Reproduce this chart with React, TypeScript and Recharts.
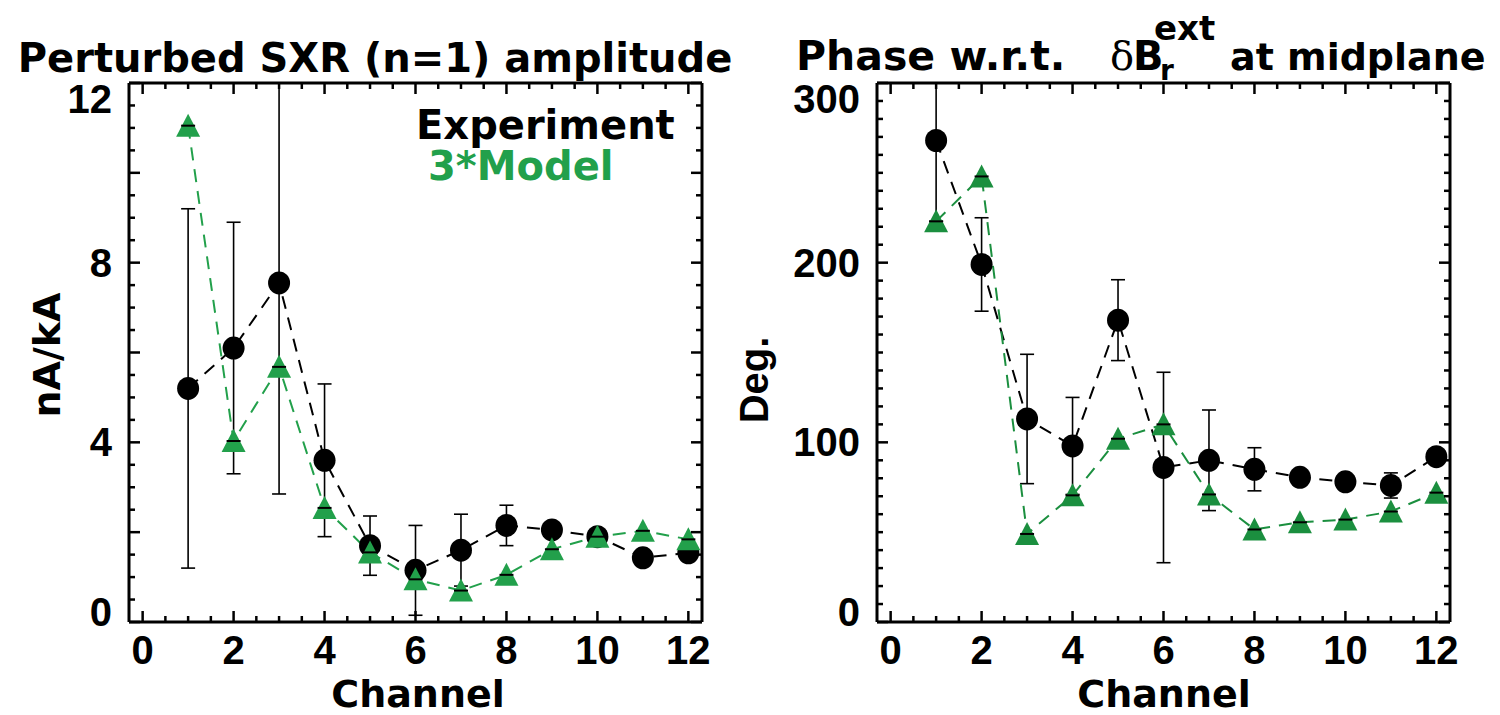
import React from "react";
import { LineChart, Line, XAxis, YAxis, ErrorBar } from "recharts";

// channel numbers (x)
const channels = [1, 2, 3, 4, 5, 6, 7, 8, 9, 10, 11, 12];

// left panel: perturbed SXR amplitude, nA/kA
const ampExp = [5.2, 6.1, 7.55, 3.6, 1.7, 1.15, 1.6, 2.15, 2.05, 1.9, 1.43, 1.54];
const ampErr: [number, number][] = [
  [4.0, 4.0], [2.8, 2.8], [4.7, 4.45], [1.7, 1.7], [0.66, 0.66], [1.0, 1.0],
  [0.8, 0.8], [0.45, 0.45], [0, 0], [0, 0], [0, 0], [0, 0],
];
const ampModel = [11.05, 4.03, 5.68, 2.54, 1.55, 0.95, 0.7, 1.05, 1.62, 1.9, 2.03, 1.84];

// right panel: phase w.r.t. dBr ext, degrees
const phaseExp = [268, 199, 113, 98, 168, 86, 90, 85, 80.5, 78, 76, 92];
const phaseErr: [number, number][] = [
  [45, 32], [26, 26], [36, 36], [27, 27], [22.5, 22.5], [53, 53],
  [28, 28], [12, 12], [0, 0], [0, 0], [7, 7], [0, 0],
];
const phaseModel = [223, 248, 49, 70.5, 102, 110, 71, 51.5, 55.5, 57, 61.5, 72];

// axis ticks
const xTickLabels = [0, 2, 4, 6, 8, 10, 12];
const ampTickLabels = [0, 4, 8, 12];
const phaseTickLabels = [0, 100, 200, 300];

const GREEN_L = "#22a04b";
const GREEN_R = "#1b8f3f";
const NUM_FONT = "'Liberation Sans', Arial, sans-serif";
const TXT_FONT = "'DejaVu Sans', sans-serif";

function stepTicks(max: number, step: number) {
  const out: number[] = [];
  for (let v = 0; v <= max + 1e-9; v += step) out.push(Math.round(v * 1000) / 1000);
  return out;
}

const isMul = (v: number, m: number) => Math.abs(v / m - Math.round(v / m)) < 1e-6;

type Side = "bottom" | "top" | "left" | "right";

function makeTick(side: Side, majorStep: number, labels: number[], maxVal: number) {
  return (props: any) => {
    const { x, y, payload } = props;
    const v = payload.value as number;
    const len = isMul(v, majorStep) ? 11 : 6;
    let line = null;
    if (side === "bottom") line = <line x1={x} x2={x} y1={y} y2={y - len} />;
    if (side === "top") line = <line x1={x} x2={x} y1={y} y2={y + len} />;
    if (side === "left") line = <line x1={x} x2={x + len} y1={y} y2={y} />;
    if (side === "right") line = <line x1={x} x2={x - len} y1={y} y2={y} />;
    let label = null;
    if (labels.includes(v)) {
      if (side === "bottom") {
        label = (
          <text x={x} y={y + 42} textAnchor="middle" fontSize={40} fontWeight="bold" fontFamily={NUM_FONT} fill="#000" stroke="none">
            {v}
          </text>
        );
      }
      if (side === "left") {
        let dy = 14;
        if (v === maxVal) dy = 30;
        if (v === 0) dy = 4;
        label = (
          <text x={x - 17} y={y + dy} textAnchor="end" fontSize={40} fontWeight="bold" fontFamily={NUM_FONT} fill="#000" stroke="none">
            {v}
          </text>
        );
      }
    }
    return (
      <g stroke="#000" strokeWidth={2.5}>
        {line}
        {label}
      </g>
    );
  };
}

const CircleDot = (props: any) => {
  const { cx, cy } = props;
  if (cx == null || cy == null) return null;
  return <ellipse cx={cx} cy={cy} rx={11} ry={11.5} fill="#000" />;
};

function makeTriangle(color: string) {
  return (props: any) => {
    const { cx, cy } = props;
    if (cx == null || cy == null) return null;
    return (
      <g>
        <polygon points={`${cx},${cy - 12} ${cx - 12},${cy + 11} ${cx + 12},${cy + 11}`} fill={color} />
        <line x1={cx - 7} x2={cx + 7} y1={cy} y2={cy} stroke="#000" strokeWidth={2} />
      </g>
    );
  };
}

type PanelProps = {
  left: number;
  exp: number[];
  err: [number, number][];
  model: number[];
  yMax: number;
  yMajor: number;
  yMinor: number;
  yLabels: number[];
  green: string;
  leftW: number;
  rightW: number;
};

function Panel({ left, exp, err, model, yMax, yMajor, yMinor, yLabels, green, leftW, rightW }: PanelProps) {
  const data = channels.map((ch, i) => ({ ch, exp: exp[i], err: err[i], model: model[i] }));
  const xTicks = stepTicks(12, 0.5);
  const yTicks = stepTicks(yMax, yMinor);
  const axisLine = { stroke: "#000", strokeWidth: 3 };
  return (
    <div style={{ position: "absolute", left, top: 0 }}>
      <LineChart width={750} height={715} data={data} margin={{ top: 0, right: 0, bottom: 0, left: 0 }}>
        <XAxis
          xAxisId="b"
          dataKey="ch"
          type="number"
          domain={[-0.3, 12.3]}
          allowDataOverflow
          ticks={xTicks}
          interval={0}
          height={93}
          tickSize={0}
          tickMargin={0}
          tickLine={false}
          axisLine={axisLine}
          tick={makeTick("bottom", 2, xTickLabels, 12)}
        />
        <XAxis
          xAxisId="t"
          orientation="top"
          dataKey="ch"
          type="number"
          domain={[-0.3, 12.3]}
          allowDataOverflow
          ticks={xTicks}
          interval={0}
          height={83}
          tickSize={0}
          tickMargin={0}
          tickLine={false}
          axisLine={axisLine}
          tick={makeTick("top", 2, [], 12)}
        />
        <YAxis
          yAxisId="l"
          type="number"
          domain={[0, yMax]}
          allowDataOverflow
          ticks={yTicks}
          interval={0}
          width={leftW}
          tickSize={0}
          tickMargin={0}
          tickLine={false}
          axisLine={axisLine}
          tick={makeTick("left", yMajor, yLabels, yMax)}
        />
        <YAxis
          yAxisId="r"
          orientation="right"
          type="number"
          domain={[0, yMax]}
          allowDataOverflow
          ticks={yTicks}
          interval={0}
          width={rightW}
          tickSize={0}
          tickMargin={0}
          tickLine={false}
          axisLine={axisLine}
          tick={makeTick("right", yMajor, [], yMax)}
        />
        <Line
          xAxisId="b"
          yAxisId="l"
          dataKey="exp"
          stroke="#000"
          strokeWidth={2}
          strokeDasharray="13 9"
          dot={<CircleDot />}
          activeDot={false}
          isAnimationActive={false}
        >
          <ErrorBar dataKey="err" direction="y" width={7} stroke="#000" strokeWidth={1.6} />
        </Line>
        <Line
          xAxisId="b"
          yAxisId="l"
          dataKey="model"
          stroke={green}
          strokeWidth={2}
          strokeDasharray="13 9"
          dot={makeTriangle(green)}
          activeDot={false}
          isAnimationActive={false}
        />
      </LineChart>
    </div>
  );
}

export default function App() {
  const tstyle = { fontFamily: TXT_FONT, fontWeight: "bold" as const, fontSize: 40 };
  const nstyle = { fontFamily: NUM_FONT, fontWeight: "bold" as const, fontSize: 40 };
  return (
    <div style={{ position: "absolute", left: 0, top: 0, width: 1500, height: 715, background: "#fff", overflow: "hidden" }}>
      <Panel
        left={0}
        exp={ampExp}
        err={ampErr}
        model={ampModel}
        yMax={12}
        yMajor={2}
        yMinor={0.5}
        yLabels={ampTickLabels}
        green={GREEN_L}
        leftW={129}
        rightW={48}
      />
      <Panel
        left={750}
        exp={phaseExp}
        err={phaseErr}
        model={phaseModel}
        yMax={300}
        yMajor={100}
        yMinor={10}
        yLabels={phaseTickLabels}
        green={GREEN_R}
        leftW={127}
        rightW={50}
      />
      <svg width={1500} height={715} style={{ position: "absolute", left: 0, top: 0, pointerEvents: "none" }}>
        <text x={375} y={72} textAnchor="middle" {...tstyle}>Perturbed SXR (n=1) amplitude</text>
        <text x={416} y={139} {...tstyle}>Experiment</text>
        <text x={428} y={180} {...tstyle} fill={GREEN_L}>3*Model</text>
        <text x={418} y={707} textAnchor="middle" {...tstyle} fontSize={38}>Channel</text>
        <text transform="translate(60,355) rotate(-90)" textAnchor="middle" {...tstyle} fontSize={38}>nA/kA</text>

        <text x={796} y={70} {...tstyle} fontSize={41}>Phase w.r.t.</text>
        <text x={1110} y={70} fontFamily="'DejaVu Serif', serif" fontSize={40}>δ</text>
        <text x={1133} y={70} {...tstyle}>B</text>
        <text x={1160} y={80} {...tstyle} fontSize={28}>r</text>
        <text x={1154} y={40} {...tstyle} fontSize={34}>ext</text>
        <text x={1230} y={70} {...tstyle} fontSize={38}>at midplane</text>
        <text x={1164} y={707} textAnchor="middle" {...tstyle} fontSize={38}>Channel</text>
        <text transform="translate(768,380) rotate(-90)" textAnchor="middle" {...nstyle}>Deg.</text>
      </svg>
    </div>
  );
}
